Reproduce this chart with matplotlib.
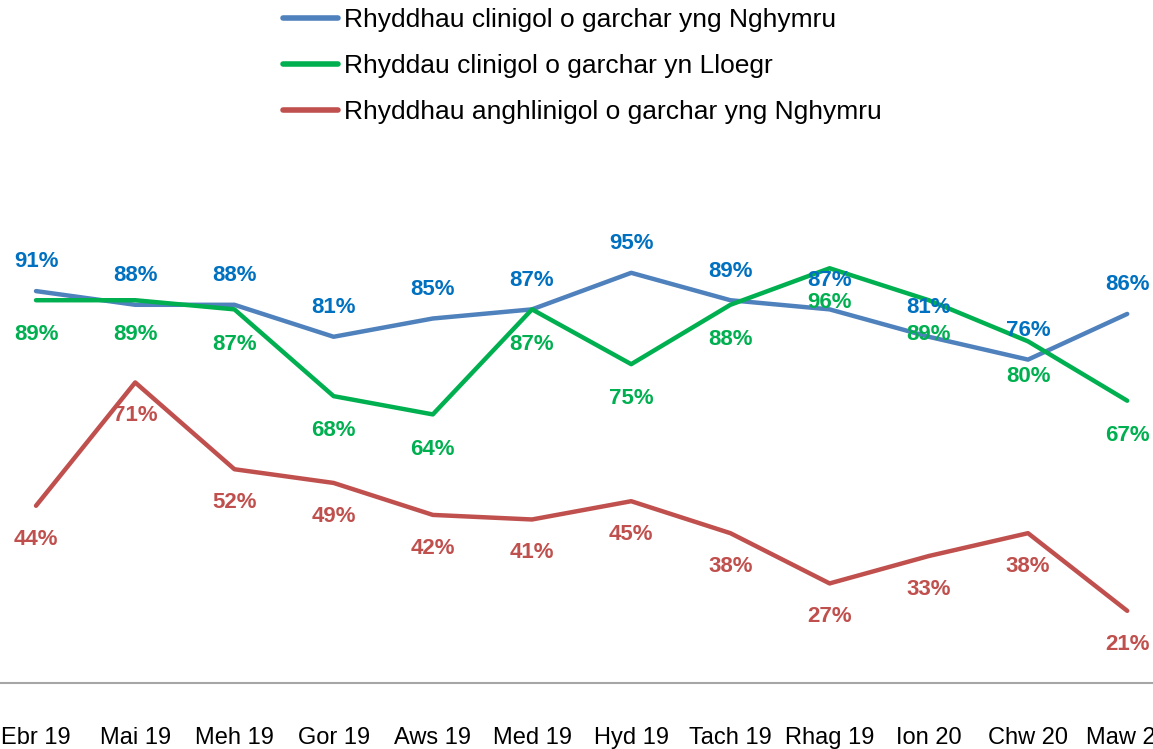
import matplotlib
matplotlib.use("Agg")
import matplotlib.pyplot as plt

plt.rcParams["font.family"] = ["Liberation Sans", "DejaVu Sans"]

# ---------------- data ----------------
months = ["Ebr 19", "Mai 19", "Meh 19", "Gor 19", "Aws 19", "Med 19",
          "Hyd 19", "Tach 19", "Rhag 19", "Ion 20", "Chw 20", "Maw 20"]
wales_clin    = [91, 88, 88, 81, 85, 87, 95, 89, 87, 81, 76, 86]
england_clin  = [89, 89, 87, 68, 64, 87, 75, 88, 96, 89, 80, 67]
wales_nonclin = [44, 71, 52, 49, 42, 41, 45, 38, 27, 33, 38, 21]

labels = ["Rhyddhau clinigol o garchar yng Nghymru",
          "Rhyddau clinigol o garchar yn Lloegr",
          "Rhyddhau anghlinigol o garchar yng Nghymru"]

LINE_BLUE, TEXT_BLUE = "#4F81BD", "#0070C0"
GREEN = "#00B050"
RED = "#C0504D"

W, H = 1153, 749
fig = plt.figure(figsize=(W / 100, H / 100), dpi=100)
ax = fig.add_axes([0, (H - 683) / H, 1, (683 - 160) / H])

x = list(range(len(months)))
series = [
    (wales_clin,    LINE_BLUE, TEXT_BLUE, 21),
    (england_clin,  GREEN,     GREEN,    -25),
    (wales_nonclin, RED,       RED,      -24),
]
for (vals, lc, tc, dy), lab in zip(series, labels):
    ax.plot(x, vals, color=lc, lw=3.2, solid_capstyle="round",
            solid_joinstyle="round", label=lab, clip_on=False)
    for xi, v in zip(x, vals):
        ax.annotate(f"{v}%", (xi, v), textcoords="offset points",
                    xytext=(0, dy), ha="center", va="center",
                    fontsize=16, fontweight="bold", color=tc)

ax.set_xlim(-0.363, 11.26)
ax.set_ylim(5.2, 119.7)
ax.set_xticks(x)
ax.set_xticklabels(months, fontsize=17)
ax.tick_params(axis="x", length=0, pad=32, colors="#000000")
ax.set_yticks([])
for s in ("top", "left", "right"):
    ax.spines[s].set_visible(False)
ax.spines["bottom"].set_color("#A6A6A6")
ax.spines["bottom"].set_linewidth(1.5)
ax.patch.set_alpha(0)

leg = fig.legend(loc="upper left", bbox_to_anchor=(283 / W, 1 - 8 / H),
                 frameon=False, fontsize=19, handlelength=2.1,
                 handletextpad=0.2, labelspacing=0.83, borderpad=0,
                 borderaxespad=0)
for h in leg.get_lines():
    h.set_linewidth(4)

fig.savefig("out.png", dpi=100)
